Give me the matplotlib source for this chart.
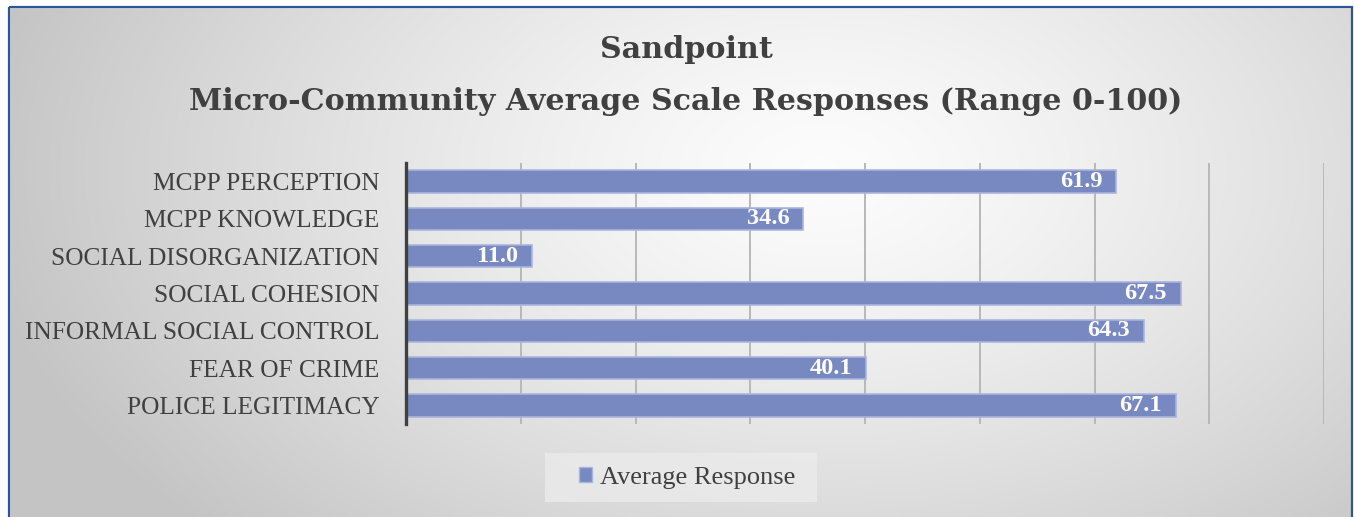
import numpy as np
import matplotlib
matplotlib.use("Agg")
import matplotlib.pyplot as plt
from matplotlib.patches import Rectangle, Patch

categories = ["MCPP PERCEPTION", "MCPP KNOWLEDGE", "SOCIAL DISORGANIZATION",
              "SOCIAL COHESION", "INFORMAL SOCIAL CONTROL", "FEAR OF CRIME",
              "POLICE LEGITIMACY"]
values = [61.9, 34.6, 11.0, 67.5, 64.3, 40.1, 67.1]
series_name = "Average Response"
title_lines = ["Sandpoint", "Micro-Community Average Scale Responses (Range 0-100)"]

W, H = 1354, 517
plt.rcParams['font.family'] = ['Liberation Serif', 'DejaVu Serif']
fig = plt.figure(figsize=(W / 100, H / 100), dpi=100)
fig.patch.set_facecolor("white")

# background radial gradient
bg = fig.add_axes([0, 0, 1, 1], zorder=-10)
yy, xx = np.mgrid[0:H, 0:W]
cx, cy = 820, 170
r = np.sqrt(((xx - cx) / 850.0) ** 2 + ((yy - cy) / 520.0) ** 2)
r = np.clip(r, 0, 1)
shade = 0.99 - 0.22 * r ** 1.3
img = np.dstack([shade, shade, shade])
bg.imshow(img, extent=[0, W, H, 0], aspect="auto")
bg.set_xlim(0, W)
bg.set_ylim(H, 0)
bg.axis("off")
bg.add_patch(Rectangle((0, 0), W, 7, color="white", zorder=2))
bg.add_patch(Rectangle((0, 0), 9, H, color="white", zorder=2))
bg.add_patch(Rectangle((1352, 0), 10, H, color="white", zorder=2))
bg.add_patch(Rectangle((9, 7), 1343, 520, fill=False, edgecolor="#2f5597", lw=1.6, zorder=3))
# legend box
bg.add_patch(Rectangle((545, 453), 272, 49, facecolor="#ebebeb", alpha=0.8, edgecolor="none", zorder=2))

ax = fig.add_axes([406 / W, 1 - 424 / H, (1324 - 406) / W, (424 - 163) / H])
ax.patch.set_alpha(0)
y = np.arange(len(categories))
ax.barh(y, values, height=0.6, color="#7789c0", edgecolor="#aab5dc", linewidth=1.2, zorder=3)
ax.set_ylim(len(categories) - 0.5, -0.5)
ax.set_xlim(0, 80)
ax.set_xticks(np.arange(10, 81, 10))
ax.tick_params(axis="x", length=0, labelbottom=False)
ax.set_yticks(y)
ax.set_yticklabels(categories, fontsize=18.3, color="#404040")
ax.tick_params(axis="y", length=0, pad=19)
ax.grid(axis="x", color="#b8b8b8", lw=1.4, zorder=0)
for s in ["top", "right", "bottom"]:
    ax.spines[s].set_visible(False)
ax.spines["left"].set_color("#404040")
ax.spines["left"].set_linewidth(2.4)
ax.spines["left"].set_zorder(5)

for yi, v in zip(y, values):
    ax.annotate(f"{v:.1f}", xy=(v, yi), xytext=(-10, 0), textcoords="offset points",
                ha="right", va="center", color="white", fontsize=17.5, fontweight="bold", zorder=4)

tfam = ['DejaVu Serif']
fig.text(686 / W, 1 - 50 / H, title_lines[0], ha="center", va="center", family=tfam,
         fontsize=21.7, fontweight="bold", color="#404040")
fig.text(686 / W, 1 - 102 / H, title_lines[1], ha="center", va="center", family=tfam,
         fontsize=21.7, fontweight="bold", color="#404040")

leg = fig.legend(handles=[Patch(facecolor="#7789c0", edgecolor="#aab5dc", label=series_name)],
                 loc="center", bbox_to_anchor=(687 / W, 1 - 478 / H), frameon=False,
                 fontsize=19, handlelength=0.5, handleheight=0.5, handletextpad=0.3,
                 borderpad=0, borderaxespad=0)
for t in leg.get_texts():
    t.set_color("#404040")

fig.savefig("out.png", dpi=100)
